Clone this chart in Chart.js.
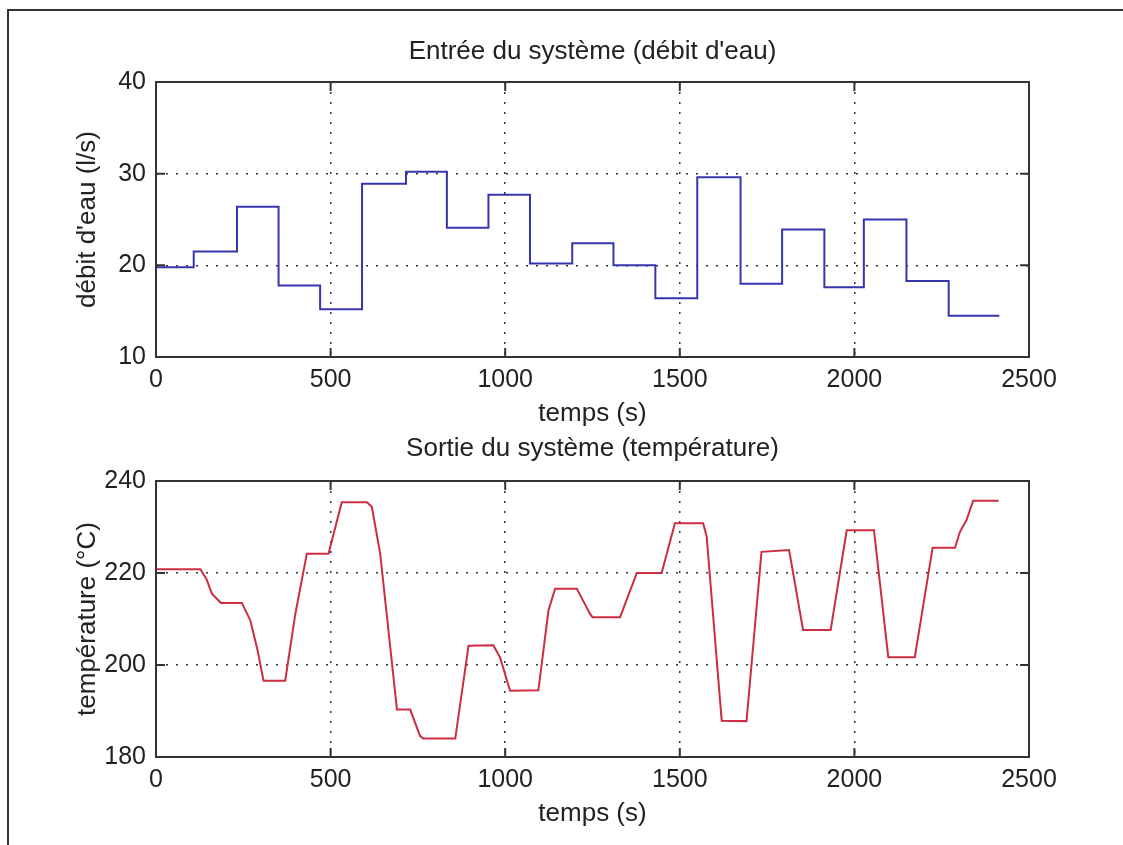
<!DOCTYPE html>
<html>
<head>
<meta charset="utf-8">
<script src="https://cdn.jsdelivr.net/npm/chart.js@4"></script>
<style>
  html, body { margin: 0; padding: 0; background: #fff; overflow: hidden; }
  #page { position: relative; width: 1123px; height: 845px; }
  #cadre { position: absolute; left: 7px; top: 9px; width: 1200px; height: 900px;
           border-top: 2px solid #333; border-left: 2px solid #333; }
  canvas { position: absolute; left: 0; }
</style>
</head>
<body>
<div id="page">
  <div id="cadre"></div>
  <canvas id="entree" width="1123" height="430" style="top:0px"></canvas>
  <canvas id="sortie" width="1123" height="415" style="top:430px"></canvas>
</div>
<script>
// entrée : débit d'eau (paliers)
const entreeTemps = [0, 108, 232, 351, 470, 590, 716, 833, 952, 1071, 1192, 1310, 1430, 1550, 1674, 1793, 1914, 2027, 2149, 2270, 2415];
const entreeDebit = [19.8, 21.5, 26.4, 17.8, 15.2, 28.9, 30.2, 24.1, 27.7, 20.2, 22.4, 20.0, 16.4, 29.6, 18.0, 23.9, 17.6, 25.0, 18.3, 14.5, 14.5];

// sortie : température
const sortieTemps = [0, 127, 145, 160, 186, 246, 270, 290, 308, 370, 399, 432, 494, 532, 604, 618, 642, 690, 728, 756, 765, 857, 895, 966, 985, 1014, 1095, 1124, 1143, 1205, 1243, 1250, 1329, 1377, 1448, 1486, 1567, 1577, 1620, 1691, 1734, 1813, 1853, 1932, 1978, 2056, 2097, 2173, 2224, 2288, 2302, 2321, 2340, 2413];
const sortieTemp = [220.8, 220.8, 218.6, 215.5, 213.5, 213.5, 209.7, 203.5, 196.6, 196.6, 211.1, 224.2, 224.2, 235.4, 235.4, 234.4, 224.2, 190.3, 190.3, 184.6, 184.0, 184.0, 204.2, 204.3, 201.7, 194.4, 194.5, 211.9, 216.6, 216.6, 211.1, 210.4, 210.4, 220.0, 220.0, 230.8, 230.8, 227.9, 187.9, 187.8, 224.6, 225.0, 207.6, 207.6, 229.3, 229.3, 201.7, 201.7, 225.5, 225.5, 228.9, 231.5, 235.7, 235.7];

// graduations
const xTicks = [0, 500, 1000, 1500, 2000, 2500];
const yTicksEntree = [10, 20, 30, 40];
const yTicksSortie = [180, 200, 220, 240];

const policeTitre = { family: 'Liberation Sans, Arial, sans-serif', size: 26 };
const policeTicks = { family: 'Liberation Sans, Arial, sans-serif', size: 25 };
const encre = '#222';

// cadre + graduations vers l'intérieur (style matlab)
const cadrePlugin = {
  id: 'cadre',
  afterDraw(chart) {
    const { ctx, chartArea: a, scales } = chart;
    ctx.save();
    ctx.strokeStyle = '#333';
    ctx.lineWidth = 2;
    ctx.strokeRect(a.left, a.top, a.right - a.left, a.bottom - a.top);
    const L = 9;
    ctx.beginPath();
    scales.x.ticks.forEach(t => {
      const px = scales.x.getPixelForValue(t.value);
      ctx.moveTo(px, a.bottom); ctx.lineTo(px, a.bottom - L);
      ctx.moveTo(px, a.top); ctx.lineTo(px, a.top + L);
    });
    scales.y.ticks.forEach(t => {
      const py = scales.y.getPixelForValue(t.value);
      ctx.moveTo(a.left, py); ctx.lineTo(a.left + L, py);
      ctx.moveTo(a.right, py); ctx.lineTo(a.right - L, py);
    });
    ctx.stroke();
    ctx.restore();
  }
};

function grille(ticks) {
  return {
    drawTicks: false,
    color: (c) => {
      const v = c.tick ? c.tick.value : null;
      return (v === ticks[0] || v === ticks[ticks.length - 1]) ? 'transparent' : '#333';
    },
    lineWidth: 1.5,
  };
}

function options(titre, yTitre, yTicks, pad, hauteurX, titrePad) {
  return {
    responsive: false,
    animation: false,
    layout: { padding: pad },
    plugins: {
      legend: { display: false },
      tooltip: { enabled: false },
      title: {
        display: true, text: titre, color: encre, fullSize: false,
        font: { ...policeTitre, weight: 'normal' }, padding: titrePad,
      },
    },
    scales: {
      x: {
        type: 'linear',
        min: xTicks[0], max: xTicks[xTicks.length - 1],
        afterBuildTicks: (s) => { s.ticks = xTicks.map(v => ({ value: v })); },
        afterFit: (s) => { s.height = hauteurX; },
        ticks: { color: encre, font: policeTicks, padding: 8, maxRotation: 0, callback: (v) => String(v) },
        grid: grille(xTicks),
        border: { display: false, dash: [2, 8] },
        title: { display: true, text: 'temps (s)', color: encre, font: policeTitre, padding: 0 },
      },
      y: {
        min: yTicks[0], max: yTicks[yTicks.length - 1],
        afterBuildTicks: (s) => { s.ticks = yTicks.map(v => ({ value: v })); },
        afterFit: (s) => { s.width = 83.6; },
        ticks: { color: encre, font: policeTicks, padding: 10, callback: (v) => String(v) },
        grid: grille(yTicks),
        border: { display: false, dash: [2, 8] },
        title: { display: true, text: yTitre, color: encre, font: policeTitre, padding: 0 },
      },
    },
  };
}

// graphique 1 : entrée
new Chart(document.getElementById('entree').getContext('2d'), {
  type: 'line',
  data: {
    datasets: [{
      data: entreeTemps.map((t, i) => ({ x: t, y: entreeDebit[i] })),
      borderColor: '#3535ad',
      borderWidth: 2,
      pointRadius: 0,
      stepped: true,
    }],
  },
  options: options("Entrée du système (débit d'eau)", "débit d'eau (l/s)", yTicksEntree,
    { left: 72.4, right: 94, top: 0, bottom: 0.4 }, 72.6, { top: 36.4, bottom: 14.4 }),
  plugins: [cadrePlugin],
});

// graphique 2 : sortie
new Chart(document.getElementById('sortie').getContext('2d'), {
  type: 'line',
  data: {
    datasets: [{
      data: sortieTemps.map((t, i) => ({ x: t, y: sortieTemp[i] })),
      borderColor: '#cc2d42',
      borderWidth: 2,
      pointRadius: 0,
      tension: 0,
    }],
  },
  options: options('Sortie du système (température)', 'température (°C)', yTicksSortie,
    { left: 72.4, right: 94, top: 0, bottom: 15.4 }, 72.6, { top: 3.4, bottom: 16.4 }),
  plugins: [cadrePlugin],
});
</script>
</body>
</html>
